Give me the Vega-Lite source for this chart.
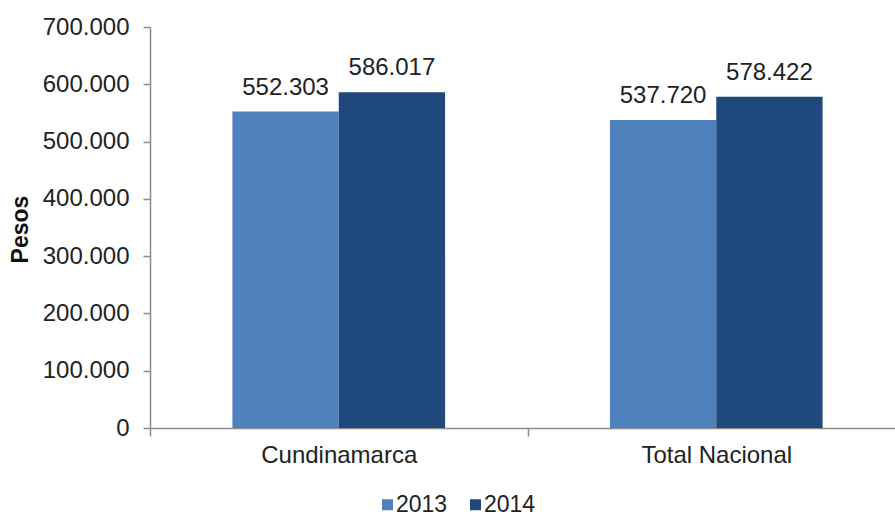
{
  "$schema": "https://vega.github.io/schema/vega-lite/v6.json",
  "width": 745,
  "height": 401,
  "autosize": {"type": "none"},
  "padding": {"left": 150, "top": 27, "right": 0, "bottom": 86},
  "background": "white",
  "config": {
    "locale": {"number": {"decimal": ",", "thousands": ".", "grouping": [3], "currency": ["$", ""]}},
    "view": {"stroke": null},
    "font": "Liberation Sans",
    "axis": {"labelFont": "Liberation Sans", "titleFont": "Liberation Sans", "labelColor": "#222222", "domainColor": "#8c8c8c", "tickColor": "#8c8c8c", "domainWidth": 1.5, "tickWidth": 1.5, "grid": false}
  },
  "data": {
    "values": [
      {"Region": "Cundinamarca", "Year": "2013", "Pesos": 552303},
      {"Region": "Cundinamarca", "Year": "2014", "Pesos": 586017},
      {"Region": "Total Nacional", "Year": "2013", "Pesos": 537720},
      {"Region": "Total Nacional", "Year": "2014", "Pesos": 578422}
    ]
  },
  "encoding": {
    "x": {
      "field": "Region", "type": "nominal", "sort": ["Cundinamarca", "Total Nacional"],
      "scale": {"range": [0, 755], "paddingInner": 0, "paddingOuter": 0},
      "axis": {"title": null, "labelAngle": 0, "labelFontSize": 24, "tickBand": "extent", "tickSize": 8, "labelPadding": 7, "labelBaseline": "top"}
    },
    "xOffset": {"field": "Year", "type": "nominal", "scale": {"paddingInner": 0, "paddingOuter": 0.775}},
    "y": {
      "field": "Pesos", "type": "quantitative",
      "scale": {"domain": [0, 700000], "nice": false},
      "axis": {"title": "Pesos", "values": [0, 100000, 200000, 300000, 400000, 500000, 600000, 700000], "format": ",.0f", "labelFontSize": 24, "tickSize": 7, "labelPadding": 14, "titleFontSize": 23, "titleFontWeight": "bold", "titleColor": "#111111", "titleAngle": -90, "titleX": -130, "titleY": 202, "titleBaseline": "middle", "titleAlign": "center"}
    }
  },
  "layer": [
    {
      "mark": {"type": "bar"},
      "encoding": {
        "color": {
          "field": "Year", "type": "nominal",
          "scale": {"domain": ["2013", "2014"], "range": ["#4F81BD", "#1F497D"]},
          "legend": {"title": null, "orient": "none", "direction": "horizontal", "legendX": 226, "legendY": 466, "symbolType": "square", "symbolSize": 121, "symbolStrokeWidth": 0, "labelFontSize": 23, "labelFont": "Liberation Sans", "labelColor": "#222222", "labelOffset": -3, "columnPadding": 16}
        }
      }
    },
    {
      "mark": {"type": "text", "baseline": "alphabetic", "dy": -17, "fontSize": 24, "color": "#222222", "font": "Liberation Sans"},
      "encoding": {"text": {"field": "Pesos", "type": "quantitative", "format": ",.0f"}}
    }
  ]
}
